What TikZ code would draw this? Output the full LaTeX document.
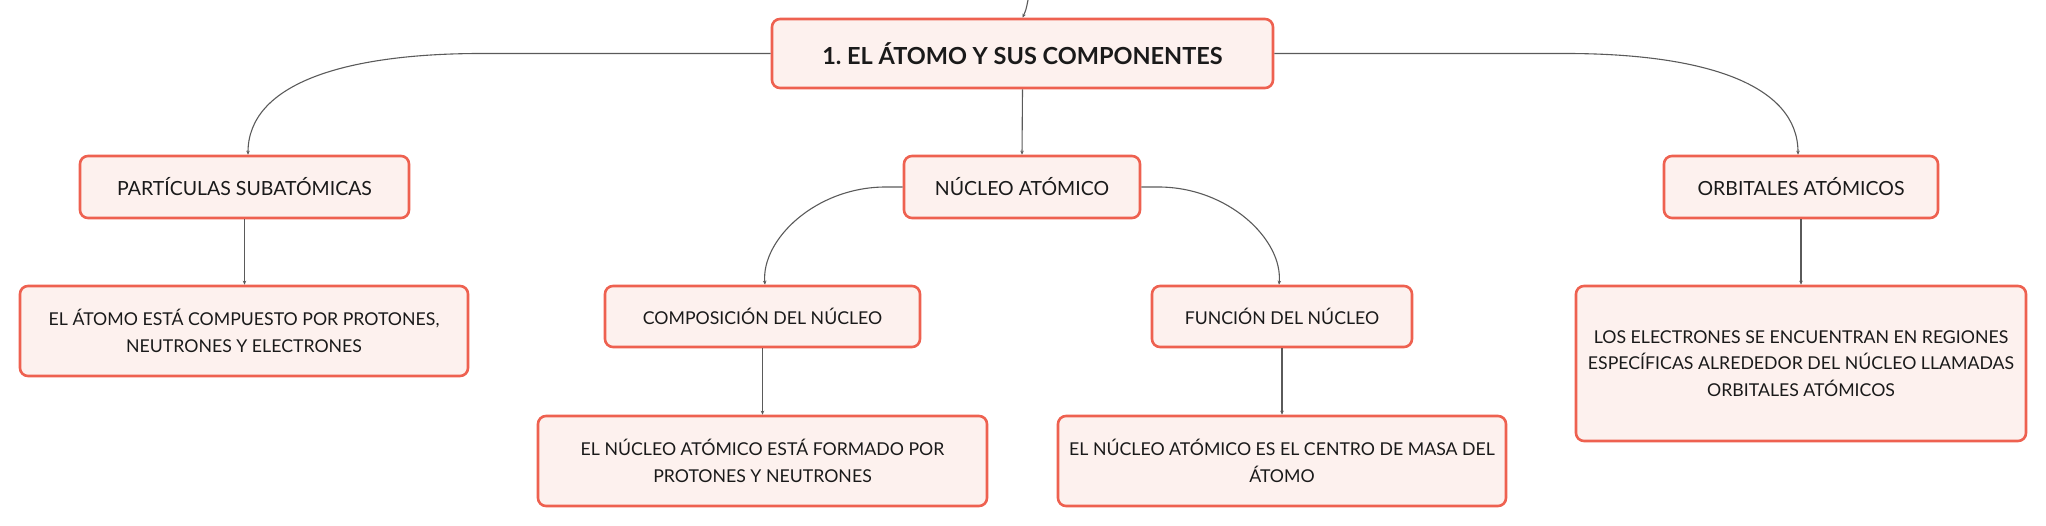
\documentclass[tikz,border=0pt]{standalone}
\usepackage{fontspec}
\setmainfont{Lato}
\frenchspacing
\usetikzlibrary{arrows.meta}
\definecolor{boxline}{HTML}{EE6150}
\definecolor{boxfill}{HTML}{FDF1EE}
\definecolor{conn}{HTML}{5A5A5A}
\definecolor{txt}{HTML}{1A1A1A}
\tikzset{
  mapbox/.style={draw=boxline, fill=boxfill, line width=2.6pt, rounded corners=8pt,
    align=center, text=txt, font=\fontsize{17.7}{26.5}\selectfont, inner sep=0pt},
  subbox/.style={mapbox, font=\fontsize{19.5}{26}\selectfont},
  titlebox/.style={mapbox, font=\fontsize{23.5}{28}\selectfont\bfseries},
  link/.style={draw=conn, line width=1.1pt, -{Stealth[length=4pt,width=3.5pt]}}
}
\begin{document}
\begin{tikzpicture}[x=1pt,y=-1pt]
\useasboundingbox (0,0) rectangle (2046,526);
% nodes
\node[titlebox, minimum width=501pt, minimum height=69pt] (main) at (1022.5,53.5) {1. EL ÁTOMO Y SUS COMPONENTES};
\node[subbox, minimum width=329pt, minimum height=62pt] (part) at (244.5,187) {PARTÍCULAS SUBATÓMICAS};
\node[subbox, minimum width=236pt, minimum height=62pt] (nuc) at (1022,187) {NÚCLEO ATÓMICO};
\node[subbox, minimum width=274pt, minimum height=62pt] (orb) at (1801,187) {ORBITALES ATÓMICOS};
\node[mapbox, minimum width=448pt, minimum height=90pt] (atomo) at (244,331) {EL ÁTOMO ESTÁ COMPUESTO POR PROTONES,\\NEUTRONES Y ELECTRONES};
\node[mapbox, minimum width=315pt, minimum height=61pt] (comp) at (762.5,316.5) {COMPOSICIÓN DEL NÚCLEO};
\node[mapbox, minimum width=260pt, minimum height=61pt] (func) at (1282,316.5) {FUNCIÓN DEL NÚCLEO};
\node[mapbox, minimum width=449pt, minimum height=90pt] (nform) at (762.5,461) {EL NÚCLEO ATÓMICO ESTÁ FORMADO POR\\PROTONES Y NEUTRONES};
\node[mapbox, minimum width=448pt, minimum height=90pt] (ncentro) at (1282,461) {EL NÚCLEO ATÓMICO ES EL CENTRO DE MASA DEL\\ÁTOMO};
\node[mapbox, minimum width=450pt, minimum height=155pt] (elec) at (1801,363.5) {LOS ELECTRONES SE ENCUENTRAN EN REGIONES\\ESPECÍFICAS ALREDEDOR DEL NÚCLEO LLAMADAS\\ORBITALES ATÓMICOS};
% connectors
\coordinate (topc) at (1028,0);
\draw[link] (topc) .. controls (1026,10) .. (main.north);
\draw[link] (main.west) -- ++(-289,0) .. controls ++(-140,0) and ++(0,-70) .. ([xshift=3.5pt]part.north);
\draw[link] (main.east) -- ++(291,0) .. controls ++(140,0) and ++(0,-70) .. ([xshift=-3pt]orb.north);
\draw[link] (main.south) -- (nuc.north);
\draw[link] (nuc.west) -- ++(-17,0) .. controls ++(-70,0) and ++(-4,-45) .. ([xshift=2.5pt]comp.north);
\draw[link] (nuc.east) -- ++(17,0) .. controls ++(70,0) and ++(4,-45) .. ([xshift=-3pt]func.north);
\draw[link] (part.south) -- (atomo.north -| part.south);
\draw[link] (comp.south) -- (nform.north);
\draw[link] (func.south) -- (ncentro.north);
\draw[link] (orb.south) -- (elec.north);
\end{tikzpicture}
\end{document}
